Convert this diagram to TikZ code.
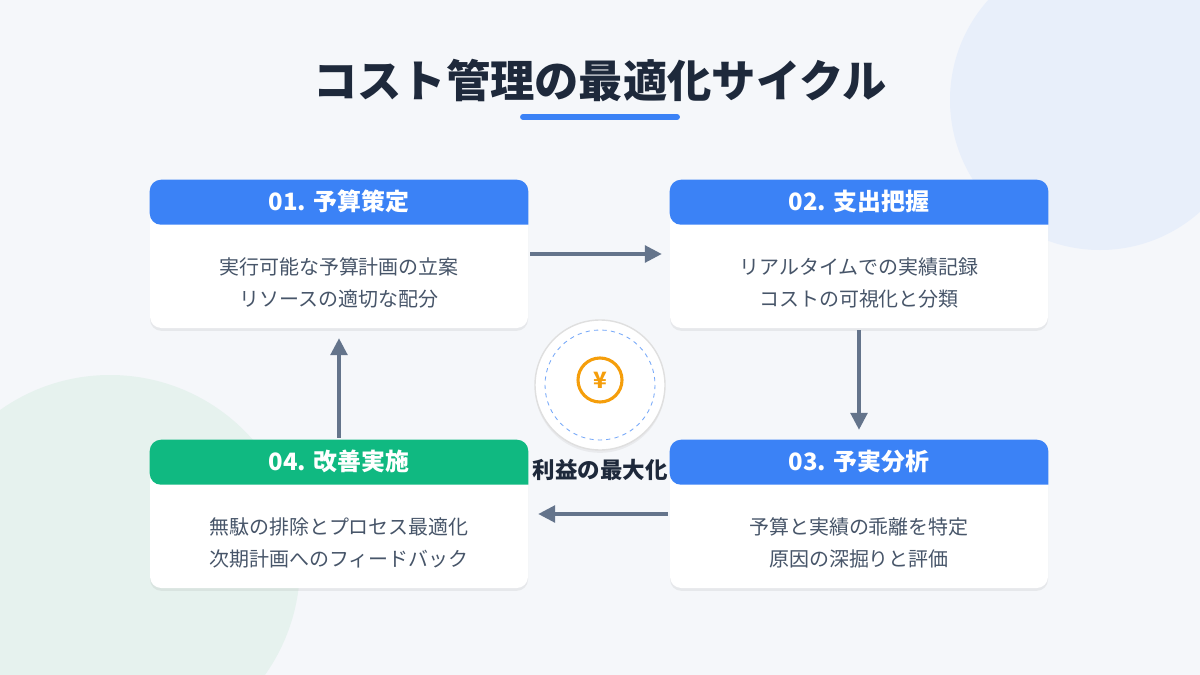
\documentclass[tikz,border=0pt]{standalone}
\usepackage{fontspec}
\setmainfont{Noto Sans CJK JP}
\usetikzlibrary{positioning, calc, arrows.meta, shadows}

\definecolor{bgpage}{HTML}{F5F7FA}
\definecolor{bgblue}{HTML}{E8EFFA}
\definecolor{bggreen}{HTML}{E6F2EE}
\definecolor{ink}{HTML}{1E293B}
\definecolor{bodytext}{HTML}{475569}
\definecolor{slate}{HTML}{64748B}
\definecolor{hdblue}{HTML}{3B82F6}
\definecolor{hdgreen}{HTML}{10B981}
\definecolor{yen}{HTML}{F59E0B}

\begin{document}
\begin{tikzpicture}[
    x=0.025cm, y=-0.025cm,
    card/.style={rectangle, rounded corners=8pt, fill=white, minimum width=378*0.025cm,
        minimum height=148*0.025cm, inner sep=0pt,
        drop shadow={opacity=0.12, shadow xshift=0pt, shadow yshift=-2pt}},
    flow/.style={-{Triangle[length=12pt, width=12pt]}, line width=2.2pt, slate},
    head/.style={font=\bfseries\fontsize{17}{19}\selectfont, text=white},
    body/.style={font=\fontsize{14.2}{22.7}\selectfont, text=bodytext, align=center}
]
    % background
    \fill[bgpage] (0,0) rectangle (1200,675);
    \begin{scope}
        \clip (0,0) rectangle (1200,675);
        \fill[bgblue] (1100,100) circle (150);
        \fill[bggreen] (110,565) circle (190);
    \end{scope}
    \useasboundingbox (0,0) rectangle (1200,675);

    % title
    \node[font=\bfseries\fontsize{31.5}{36}\selectfont, text=ink] (title) at (600,80) {コスト管理の最適化サイクル};
    \draw[hdblue, line width=4.2pt, line cap=round] (523,117) -- (677,117);

    % cards
    \foreach \name/\cx/\cy/\hd/\ttl/\la/\lb in {
        c1/339/254/hdblue/01. 予算策定/実行可能な予算計画の立案/リソースの適切な配分,
        c2/859/254/hdblue/02. 支出把握/リアルタイムでの実績記録/コストの可視化と分類,
        c3/859/514/hdblue/03. 予実分析/予算と実績の乖離を特定/原因の深掘りと評価,
        c4/339/514/hdgreen/04. 改善実施/無駄の排除とプロセス最適化/次期計画へのフィードバック} {
        \node[card] (\name) at (\cx,\cy) {};
        \fill[\hd, rounded corners=8pt] (\name.north west) -- ($(\name.north west)+(0,45)$)
            [sharp corners] -- ($(\name.north east)+(0,45)$) [rounded corners=8pt] -- (\name.north east) -- cycle;
        \node[head] (\name-t) at ($(\name.north)+(0,22)$) {\ttl};
        \node[body] (\name-b) at ($(\name.north)+(0,103)$) {\la\\\lb};
    }

    % flow
    \draw[flow] (c1.east) ++(2,0) coordinate (a1) (a1) -- ($(c2.west)+(-8,0)$);
    \draw[flow] ($(c2.south)+(0,2)$) -- ($(c3.north)+(0,-10)$);
    \draw[flow] ($(c3.west)+(-2,0)$) -- ($(c4.east)+(10,0)$);
    \draw[flow] ($(c4.north)+(0,-2)$) -- ($(c1.south)+(0,10)$);

    % center
    \node[circle, fill=white, draw=gray!25, line width=1pt, minimum size=130*0.025cm,
        drop shadow={opacity=0.1, shadow xshift=0pt, shadow yshift=-2pt}] (hub) at (600,385) {};
    \draw[hdblue!70, dashed, line width=0.6pt] (hub.center) circle (55);
    \node[circle, draw=yen, line width=2.2pt, minimum size=44*0.025cm, inner sep=0pt, text=yen,
        font=\bfseries\fontsize{16}{16}\selectfont] (coin) at (600,380) {¥};
    \node[font=\bfseries\fontsize{16}{18}\selectfont, text=ink] (goal) at (600,470) {利益の最大化};
\end{tikzpicture}
\end{document}
